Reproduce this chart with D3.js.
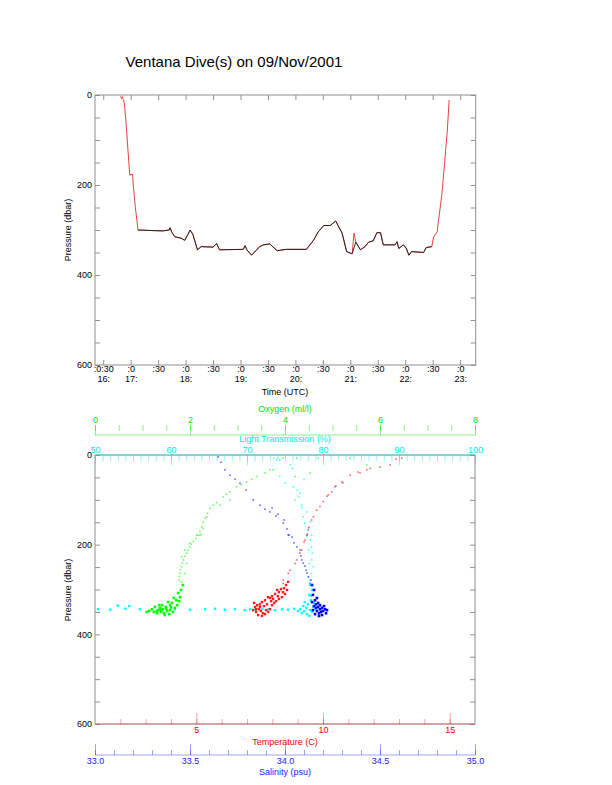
<!DOCTYPE html>
<html>
<head>
<meta charset="utf-8">
<script src="https://cdn.jsdelivr.net/npm/d3@7"></script>
<style>
  body { margin: 0; background: #fff; }
  text { font-family: "Liberation Sans", Arial, sans-serif; }
</style>
</head>
<body>
<div id="chart"></div>
<script>
// ---- data: dive track (time vs pressure) ----
const diveTimes = ["16:49","16:50","16:51","16:52","16:53","16:55","16:57","16:59","17:02","17:03","17:05","17:08",
  "17:20","17:35","17:42","17:43","17:45","17:48","17:55","17:59","18:02","18:05","18:08","18:13","18:17","18:30",
  "18:34","18:37","19:03","19:05","19:07","19:12","19:21","19:25","19:32","19:40","19:50","20:12","20:20","20:25",
  "20:31","20:38","20:44","20:51","20:56","21:02","21:04","21:06","21:11","21:16","21:20","21:25","21:29","21:33",
  "21:36","21:49","21:51","21:53","21:58","22:01","22:04","22:07","22:20","22:23","22:29","22:31","22:35","22:36",
  "22:40","22:43","22:46","22:48"];
const divePressure = [3,8,4,10,18,63,122,178,176,204,248,300,
  301,302,300,295,305,315,318,323,312,300,310,344,337,338,
  330,344,343,335,344,356,337,333,331,346,343,343,322,304,
  290,290,280,307,348,353,307,327,344,337,327,324,306,306,
  333,333,326,341,333,340,356,348,350,339,337,315,304,285,
  222,152,78,11];
const bottomStart = "17:08", bottomEnd = "22:29";
const spikeTimes = ["21:04"];

const timeTicks = ["16:30","17:00","17:30","18:00","18:30","19:00","19:30","20:00","20:30","21:00","21:30","22:00","22:30","23:00"];
const timeTickLine1 = [":0:30",":0",":30",":0",":30",":0",":30",":0",":30",":0",":30",":0",":30",":0"];
const timeTickLine2 = ["16:","17:","","18:","","19:","","20:","","21:","","22:","","23:"];
const pressureLabels = [0, 200, 400, 600];

// ---- data: CTD profiles [value, pressure] ----
const oxygenTrace = [[3.96,7],[4.25,7],[4.70,7],[5.37,7],[5.72,22],[3.68,33],[4.53,40],[4.21,48],
  [3.75,33],[3.58,40],[3.40,48],[3.30,54],[3.19,60],[3.08,66],[2.98,71],[2.84,82],[2.77,88],[2.70,93],
  [2.56,106],[2.49,112],[2.42,119],[2.37,130],[2.32,141],[2.28,150],[2.25,160],[2.21,170],[2.17,179],
  [2.12,186],[2.07,193],[2.03,199],[2.00,205],[1.96,212],[1.93,219],[1.89,226],[1.86,234],[1.84,241],
  [1.82,249],[1.80,256],[1.79,264],[1.78,271],[1.77,279],
  [2.84,100],[2.63,112],[2.35,138],[2.28,164],[2.21,179],[2.24,177],[2.14,179],[2.00,197],[1.89,212],
  [1.82,227],[1.93,242],[1.89,264],[1.82,283]];
const oxygenBottom = [[1.85,290],[1.81,301],[1.75,308],[1.79,317],[1.71,324],[1.66,319],[1.62,330],[1.58,335],
  [1.54,328],[1.49,339],[1.43,344],[1.37,341],[1.33,346],[1.26,339],[1.20,344],[1.14,348],[1.09,350],[1.39,350],
  [1.45,353],[1.52,348],[1.58,346],[1.64,350],[1.68,341],[1.41,335],[1.31,353],[1.47,357],[1.73,335],[1.77,326],
  [1.56,355],[1.35,335],[1.24,350],[1.60,340],[1.50,343],[1.40,346],[1.30,348]];

const lightTrace = [[73.5,7],[73.9,11],[74.3,11],[75.7,22],[76.0,30],[74.3,48],[77.5,55],[75.0,62],[76.1,71],
  [76.6,78],[77.0,85],[76.8,93],[76.3,100],[77.2,112],[77.2,118],[77.9,127],[77.4,138],[78.3,149],[77.6,152],
  [78.1,164],[78.5,179],[77.9,182],[78.3,190],[78.5,205],[78.1,212],[78.6,219],[78.5,234],[78.2,242],[78.7,249],
  [78.5,264],[78.1,272],[78.3,279]];
const lightBottom = [[78.3,290],[78.6,301],[78.2,312],[78.4,324],[78.0,333],[77.8,341],[78.3,346],[78.7,339],
  [77.5,348],[77.2,353],[77.9,355],[78.6,350],[79.0,344],[77.0,344],[76.7,348],[77.6,328],[78.4,314],[78.8,330],
  [78.2,359],[77.4,337],[50.4,344],[52.0,345],[53.0,336],[54.0,343],[54.5,337],[55.9,344],[58.6,346],[60.5,344],
  [62.5,345],[64.5,344],[65.8,343],[67.1,345],[68.4,344],[69.7,346],[70.4,344],[71.1,345],[72.0,343],[72.8,344],
  [73.7,346],[74.6,344],[75.4,345],[76.2,343]];

const tempTrace = [[13.11,7],[12.88,9],[12.65,22],[12.25,27],[11.73,33],[11.38,38],[11.07,45],[10.74,60],
  [10.51,69],[10.35,82],[10.16,92],[10.01,104],[9.75,123],[9.55,145],[9.45,161],[9.36,179],[9.38,177],
  [9.25,194],[9.16,212],[8.96,234],[8.70,257],[8.43,286],
  [11.86,30],[11.46,40],[10.79,62],[10.47,71],[10.21,89],[9.88,115],[9.62,138],[9.42,167],[9.29,190],
  [9.09,219],[8.90,242],[8.63,264],[8.43,279]];
const tempBottom = [[8.62,283],[8.54,290],[8.46,297],[8.34,299],[8.26,306],[8.19,301],[8.11,310],[7.99,315],
  [7.91,319],[7.83,317],[7.71,324],[7.59,328],[7.51,333],[7.40,335],[7.32,339],[7.24,346],[7.36,350],[7.47,344],
  [7.55,348],[7.63,353],[7.75,346],[7.83,350],[7.91,344],[7.99,335],[8.07,330],[8.15,326],[8.26,321],[8.38,317],
  [8.50,310],[8.58,301],[7.44,357],[7.59,359],[7.28,330],[7.67,337],[7.79,333],[7.95,326],[8.03,321],[8.22,315],
  [8.42,306],[7.51,339],[7.36,344],[7.71,355]];

const salinityTrace = [[33.649,4],[33.663,16],[33.684,33],[33.711,45],[33.737,54],[33.763,63],[33.795,78],
  [33.833,100],[33.868,112],[33.895,121],[33.921,127],[33.953,136],[33.991,152],[34.011,165],[34.021,179],
  [34.017,178],[34.047,196],[34.079,212],[34.084,225],[34.096,241],[34.111,257],[34.123,272],[34.132,286],
  [33.932,118],[33.963,132],[33.995,145],[34.037,183],[34.063,205],[34.089,234],[34.105,248],[34.116,263],[34.137,279]];
const salinityBottom = [[34.142,290],[34.153,301],[34.147,312],[34.158,324],[34.163,333],[34.174,339],[34.184,344],
  [34.195,341],[34.211,344],[34.221,346],[34.168,348],[34.179,353],[34.189,350],[34.158,355],[34.147,346],
  [34.163,341],[34.174,330],[34.184,335],[34.200,348],[34.216,353],[34.153,337],[34.168,319],[34.142,328],
  [34.179,359],[34.195,357],[34.205,337]];

const width = 612, height = 785;
const frameColor = "#8f8f8f";
const svg = d3.select("#chart").append("svg")
    .attr("width", width)
    .attr("height", height);

svg.append("text")
    .attr("x", 234).attr("y", 67)
    .attr("text-anchor", "middle")
    .style("font-size", "15px")
    .text("Ventana Dive(s) on 09/Nov/2001");

// small helper: style an axis group (tick colour, label colour, no domain)
function styleAxis(g, color, opacity) {
    g.select(".domain").remove();
    g.selectAll("line").attr("stroke", color).attr("stroke-opacity", opacity);
    g.selectAll("text").attr("fill", color === frameColor ? "#000" : color).style("font-size", "9px");
}

// ---------------- Top panel: pressure vs time ----------------
const parseTime = d3.timeParse("%H:%M");
const xTime = d3.scaleTime()
    .domain([parseTime("16:21"), parseTime("23:17")])
    .range([95, 475.7]);
const yTop = d3.scaleLinear().domain([0, 600]).range([95, 365]);

const dive = diveTimes.map((t, i) => ({ t: parseTime(t), p: divePressure[i], s: t }));
const bottomTrack = dive.filter(d => d.s >= bottomStart && d.s <= bottomEnd && !spikeTimes.includes(d.s));

svg.append("rect")
    .attr("x", 95).attr("y", 95)
    .attr("width", 475.7 - 95).attr("height", 270)
    .attr("fill", "none").attr("stroke", frameColor);

const pTicks = d3.range(0, 601, 50);
svg.append("g").attr("transform", "translate(95,0)")
    .call(d3.axisLeft(yTop).tickValues(pTicks).tickSize(-5).tickPadding(3)
        .tickFormat(d => pressureLabels.includes(d) ? d : ""))
    .call(g => styleAxis(g, frameColor, 1));
svg.append("g").attr("transform", "translate(475.7,0)")
    .call(d3.axisRight(yTop).tickValues(pTicks).tickSize(-5).tickFormat(""))
    .call(g => styleAxis(g, frameColor, 1));
svg.append("g").attr("transform", "translate(0,95)")
    .call(d3.axisTop(xTime).tickValues(timeTicks.map(parseTime)).tickSize(-5).tickFormat(""))
    .call(g => styleAxis(g, frameColor, 1));
const timeAxis = svg.append("g").attr("transform", "translate(0,365)")
    .call(d3.axisBottom(xTime).tickValues(timeTicks.map(parseTime)).tickSize(-5).tickPadding(1)
        .tickFormat((d, i) => timeTickLine1[i]))
    .call(g => styleAxis(g, frameColor, 1));
timeAxis.selectAll(".tick").append("text")
    .attr("y", 17).attr("fill", "#000")
    .style("font-size", "9px")
    .text((d, i) => timeTickLine2[i]);

svg.append("text")
    .attr("x", 285).attr("y", 395)
    .attr("text-anchor", "middle").style("font-size", "9px")
    .text("Time (UTC)");
svg.append("text")
    .attr("transform", "translate(71,230) rotate(-90)")
    .attr("text-anchor", "middle").style("font-size", "9px")
    .text("Pressure (dbar)");

const diveLine = d3.line().x(d => xTime(d.t)).y(d => yTop(d.p));
svg.append("path").datum(dive)
    .attr("d", diveLine)
    .attr("fill", "none").attr("stroke", "#e8413c").attr("stroke-width", 1);
svg.append("path").datum(bottomTrack)
    .attr("d", diveLine)
    .attr("fill", "none").attr("stroke", "#1a1a1a").attr("stroke-width", 0.9);

// ---------------- Bottom panel: profiles ----------------
const yProf = d3.scaleLinear().domain([0, 600]).range([455, 724]);
const xTemp = d3.scaleLinear().domain([1, 16]).range([95, 475]);
const xSal = d3.scaleLinear().domain([33, 35]).range([95, 475]);
const xOxy = d3.scaleLinear().domain([0, 8]).range([95, 475]);
const xLight = d3.scaleLinear().domain([50, 100]).range([95, 475]);

svg.append("rect")
    .attr("x", 95).attr("y", 455)
    .attr("width", 380).attr("height", 269)
    .attr("fill", "none").attr("stroke", frameColor);

svg.append("g").attr("transform", "translate(95,0)")
    .call(d3.axisLeft(yProf).tickValues(pTicks).tickSize(-5).tickPadding(3)
        .tickFormat(d => pressureLabels.includes(d) ? d : ""))
    .call(g => styleAxis(g, frameColor, 1));
svg.append("g").attr("transform", "translate(475,0)")
    .call(d3.axisRight(yProf).tickValues(pTicks).tickSize(-5).tickFormat(""))
    .call(g => styleAxis(g, frameColor, 1));
svg.append("text")
    .attr("transform", "translate(71,590) rotate(-90)")
    .attr("text-anchor", "middle").style("font-size", "9px")
    .text("Pressure (dbar)");

// Oxygen axis (top, detached)
const green = "#00e000";
svg.append("line").attr("x1", 95).attr("x2", 475).attr("y1", 435).attr("y2", 435)
    .attr("stroke", green).attr("stroke-opacity", 0.45);
svg.append("g").attr("transform", "translate(0,435)")
    .call(d3.axisTop(xOxy).tickValues([0, 2, 4, 6, 8]).tickSize(10).tickPadding(2))
    .call(g => styleAxis(g, green, 0.45));
svg.append("g").attr("transform", "translate(0,425)")
    .call(d3.axisBottom(xOxy).tickValues(d3.range(0, 8.01, 0.5)).tickSize(6).tickFormat(""))
    .call(g => styleAxis(g, green, 0.45));
svg.append("text").attr("x", 285).attr("y", 412.3)
    .attr("text-anchor", "middle").attr("fill", green).style("font-size", "9px")
    .text("Oxygen (ml/l)");

// Light transmission axis (top of box)
const cyan = "#00e8e8";
svg.append("line").attr("x1", 95).attr("x2", 475).attr("y1", 455).attr("y2", 455)
    .attr("stroke", cyan).attr("stroke-opacity", 0.6);
svg.append("g").attr("transform", "translate(0,455)")
    .call(d3.axisTop(xLight).tickValues(d3.range(50, 101, 10)).tickSize(-10).tickPadding(2))
    .call(g => styleAxis(g, cyan, 0.45));
svg.append("g").attr("transform", "translate(0,455)")
    .call(d3.axisTop(xLight).tickValues(d3.range(50, 101, 1)).tickSize(-6).tickFormat(""))
    .call(g => styleAxis(g, cyan, 0.45));
svg.append("text").attr("x", 285).attr("y", 442.3)
    .attr("text-anchor", "middle").attr("fill", cyan).style("font-size", "9px")
    .text("Light Transmission (%)");

// Temperature axis (bottom of box)
const red = "#f00000";
svg.append("line").attr("x1", 96).attr("x2", 474).attr("y1", 724).attr("y2", 724)
    .attr("stroke", red).attr("stroke-opacity", 0.35);
svg.append("g").attr("transform", "translate(0,724)")
    .call(d3.axisBottom(xTemp).tickValues([5, 10, 15]).tickSize(-11).tickPadding(3))
    .call(g => styleAxis(g, red, 0.35));
svg.append("g").attr("transform", "translate(0,724)")
    .call(d3.axisBottom(xTemp).tickValues(d3.range(2, 16, 1)).tickSize(-5).tickFormat(""))
    .call(g => styleAxis(g, red, 0.35));
svg.append("text").attr("x", 285).attr("y", 745)
    .attr("text-anchor", "middle").attr("fill", red).style("font-size", "9px")
    .text("Temperature (C)");

// Salinity axis (detached, below)
const blue = "#1a1aff";
svg.append("line").attr("x1", 95).attr("x2", 475).attr("y1", 755).attr("y2", 755)
    .attr("stroke", blue).attr("stroke-opacity", 0.4);
svg.append("g").attr("transform", "translate(0,755)")
    .call(d3.axisBottom(xSal).tickValues(d3.range(33, 35.01, 0.5)).tickSize(-11).tickPadding(3)
        .tickFormat(d3.format(".1f")))
    .call(g => styleAxis(g, blue, 0.4));
svg.append("g").attr("transform", "translate(0,755)")
    .call(d3.axisBottom(xSal).tickValues(d3.range(33, 35.01, 0.1)).tickSize(-5).tickFormat(""))
    .call(g => styleAxis(g, blue, 0.4));
svg.append("text").attr("x", 285).attr("y", 775)
    .attr("text-anchor", "middle").attr("fill", blue).style("font-size", "9px")
    .text("Salinity (psu)");

// profile dots
function drawDots(data, xScale, color, size, opacity) {
    svg.append("g")
        .selectAll("rect")
        .data(data)
        .enter()
        .append("rect")
        .attr("x", d => xScale(d[0]) - size / 2)
        .attr("y", d => yProf(d[1]) - size / 2)
        .attr("width", size).attr("height", size)
        .attr("fill", color)
        .attr("fill-opacity", opacity);
}
drawDots(lightTrace, xLight, "#00ffff", 1.6, 0.7);
drawDots(oxygenTrace, xOxy, "#00ff00", 1.6, 0.6);
drawDots(tempTrace, xTemp, "#ff0000", 1.6, 0.6);
drawDots(salinityTrace, xSal, "#0000ff", 1.6, 0.6);
drawDots(lightBottom, xLight, "#00ffff", 2.4, 1);
drawDots(oxygenBottom, xOxy, "#00ff00", 2.6, 1);
drawDots(tempBottom, xTemp, "#ff0000", 2.4, 0.9);
drawDots(salinityBottom, xSal, "#0000ff", 2.6, 1);
</script>
</body>
</html>
